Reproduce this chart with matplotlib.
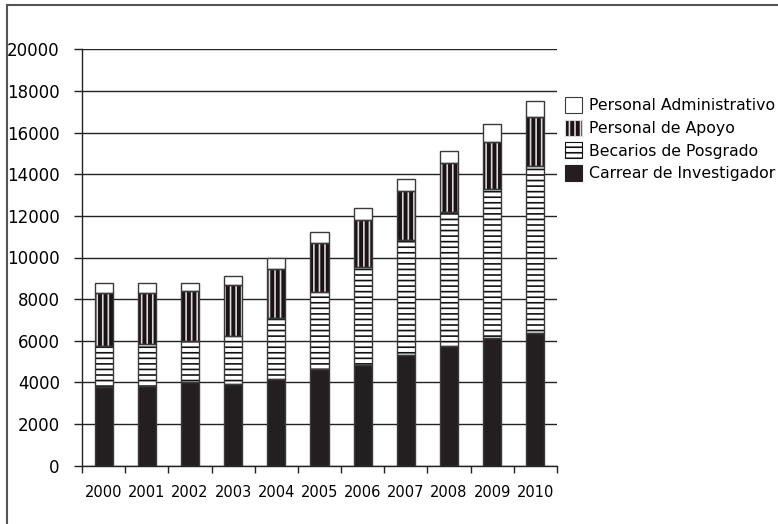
import matplotlib.pyplot as plt
from matplotlib.patches import Patch, Rectangle
import numpy as np

plt.rcParams['font.family'] = ['DejaVu Sans']
plt.rcParams['hatch.linewidth'] = 1.2

# Data (stacked, bottom to top)
years = ['2000', '2001', '2002', '2003', '2004', '2005', '2006', '2007', '2008', '2009', '2010']
carrera = [3790, 3830, 4000, 3920, 4140, 4630, 4830, 5320, 5750, 6120, 6390]
becarios = [1960, 2010, 1990, 2310, 2940, 3700, 4700, 5520, 6450, 7160, 8010]
apoyo = [2560, 2470, 2410, 2450, 2350, 2350, 2270, 2360, 2330, 2290, 2340]
admin = [480, 480, 390, 430, 530, 560, 560, 560, 600, 850, 800]

labels = ['Carrear de Investigador', 'Becarios de Posgrado',
          'Personal de Apoyo', 'Personal Administrativo']

fig = plt.figure(figsize=(7.78, 5.24), dpi=100, facecolor='white')
ax = fig.add_axes([82 / 778, 1 - 465.6 / 524, (557 - 82) / 778, (465.6 - 49.4) / 524])

x = np.arange(len(years))
w = 0.42
outline = '#3a3a3a'

# Styles per series: (facecolor, hatchcolor, hatch)
styles = [
    ('#231f20', '#231f20', None),
    ('white', '#111111', '---'),
    ('#1a1214', '#d8d8d8', '|||'),
    ('white', outline, None),
]

bottom = np.zeros(len(years))
for vals, (fc, hc, hatch) in zip([carrera, becarios, apoyo, admin], styles):
    vals = np.array(vals)
    ax.bar(x, vals, w, bottom=bottom, facecolor=fc, edgecolor=hc, hatch=hatch,
           linewidth=0, zorder=3)
    ax.bar(x, vals, w, bottom=bottom, fill=False, edgecolor=outline,
           linewidth=1.0, zorder=4)
    bottom += vals

ax.set_xlim(-0.5, len(years) - 0.5)
ax.set_ylim(0, 20000)
ax.set_yticks(np.arange(0, 20001, 2000))
ax.tick_params(axis='y', labelsize=12, length=6, width=1, color='#222', direction='out', pad=10)
ax.set_xticks(x)
ax.set_xticklabels(years)
ax.tick_params(axis='x', which='major', length=0, labelsize=10.5, pad=14)
ax.set_xticks(np.arange(-0.5, len(years)), minor=True)
ax.tick_params(axis='x', which='minor', length=5, width=1, color='#222', direction='out')

ax.yaxis.grid(True, color='#222', linewidth=1.0, zorder=0)
ax.set_axisbelow(True)
for s in ['top', 'right']:
    ax.spines[s].set_visible(False)
for s in ['left', 'bottom']:
    ax.spines[s].set_color('#222')
    ax.spines[s].set_linewidth(1.0)

handles = [Patch(facecolor=fc, edgecolor=hc, hatch=hatch, linewidth=0.8)
           for fc, hc, hatch in styles]
handles[3] = Patch(facecolor='white', edgecolor=outline, linewidth=0.8)
fig.legend(handles[::-1], labels[::-1], loc='upper left',
           bbox_to_anchor=(565 / 778, 1 - 97 / 524), frameon=False,
           fontsize=11.3, handlelength=1.1, handleheight=1.2, handletextpad=0.4,
           labelspacing=0.4, borderpad=0, borderaxespad=0)

# Outer frame (cut off at right and bottom)
fig.patches.append(Rectangle((7 / 778, -0.2), 1.2, 1 - 5 / 524 + 0.2,
                             transform=fig.transFigure, fill=False,
                             edgecolor='#555', linewidth=1.5))

fig.savefig('out.png', dpi=100, facecolor='white')
